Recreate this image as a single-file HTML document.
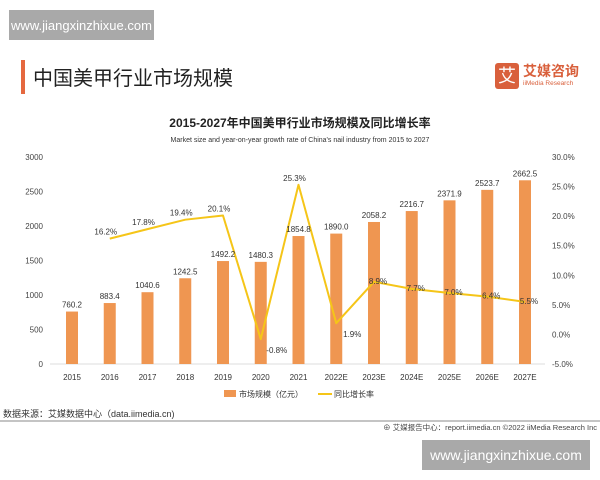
<!DOCTYPE html><html><head><meta charset="utf-8"><style>
body{margin:0;width:600px;height:480px;background:#fff;font-family:"Liberation Sans","Noto Sans CJK SC",sans-serif;overflow:hidden;position:relative}
.wm{position:absolute;background:#a9a9a9;color:#fff;font-size:13px;display:flex;align-items:center;justify-content:center}
</style></head><body>
<div class="wm" style="left:9px;top:10px;width:145px;height:30px">www.jiangxinzhixue.com</div>
<div class="wm" style="left:422px;top:440px;width:168px;height:30px;font-size:14px">www.jiangxinzhixue.com</div>
<div style="position:absolute;left:21px;top:60px;width:4px;height:34px;background:#e5683f"></div>
<div style="position:absolute;left:33px;top:62px;font-size:20px;color:#222">中国美甲行业市场规模</div>
<div style="position:absolute;left:495px;top:63px;width:24px;height:26px;background:#d9603c;border-radius:3px;color:#fff;font-size:18px;text-align:center;line-height:26px">艾</div>
<div style="position:absolute;left:523px;top:61px;font-size:14px;color:#d9603c;font-weight:bold">艾媒咨询</div>
<div style="position:absolute;left:523px;top:80px;font-size:6.5px;color:#d9603c">iiMedia Research</div>
<svg width="600" height="480" style="position:absolute;left:0;top:0" font-family="Liberation Sans,Noto Sans CJK SC,sans-serif">
<text x="300" y="127" font-size="12" font-weight="bold" text-anchor="middle" fill="#222">2015-2027年中国美甲行业市场规模及同比增长率</text>
<text x="300" y="142" font-size="7" text-anchor="middle" fill="#333">Market size and year-on-year growth rate of China's nail industry from 2015 to 2027</text>
<line x1="50" y1="364" x2="545" y2="364" stroke="#ddd"/>
<g font-size="8" fill="#444" text-anchor="end" id="ly"></g>
<g font-size="8" fill="#444" id="ry"></g>
<g id="bars"></g>
<polyline id="ln" fill="none" stroke="#f5c518" stroke-width="2" stroke-linejoin="round"/>
<g font-size="8" fill="#333" text-anchor="middle" id="lbl"></g>
<rect x="224" y="390" width="12" height="7" fill="#ef9651"/>
<text x="239" y="397" font-size="8" fill="#333">市场规模（亿元）</text>
<line x1="318" y1="394" x2="332" y2="394" stroke="#f5c518" stroke-width="2"/>
<text x="334" y="397" font-size="8" fill="#333">同比增长率</text>
<text x="3" y="417" font-size="9" fill="#333">数据来源：艾媒数据中心（data.iimedia.cn)</text>
<line x1="0" y1="421" x2="600" y2="421" stroke="#888" stroke-width="1"/>
<text x="597" y="430" font-size="7.5" fill="#444" text-anchor="end">⊕ 艾媒报告中心：report.iimedia.cn   ©2022  iiMedia Research  Inc</text>
</svg>
<script>
const ns="http://www.w3.org/2000/svg";function el(p,t,a,tx){const e=document.createElementNS(ns,t);for(const k in a)e.setAttribute(k,a[k]);if(tx!=null)e.textContent=tx;document.getElementById(p).appendChild(e);}
for(let i=0;i<=6;i++){const y=364-i*34.5;el("ly","text",{x:43,y:y+3},String(i*500));}
for(let i=0;i<=7;i++){const y=364-i*207/7;const r=-5+i*5;el("ry","text",{x:552,y:y+3},r.toFixed(1)+"%");}
const v=[760.2,883.4,1040.6,1242.5,1492.2,1480.3,1854.8,1890.0,2058.2,2216.7,2371.9,2523.7,2662.5];
const yr=["2015","2016","2017","2018","2019","2020","2021","2022E","2023E","2024E","2025E","2026E","2027E"];
const g=[null,16.2,17.8,19.4,20.1,-0.8,25.3,1.9,8.9,7.7,7.0,6.4,5.5];
const X=i=>72+i*37.75;
v.forEach((d,i)=>{const t=364-d/3000*207;el("bars","rect",{x:X(i)-6,y:t,width:12,height:364-t,fill:"#ef9651"});el("lbl","text",{x:X(i),y:t-4},d.toFixed(1));el("lbl","text",{x:X(i),y:380},yr[i]);});
const P=[];g.forEach((r,i)=>{if(r!=null)P.push([X(i),364-(r+5)/35*207]);});
document.getElementById("ln").setAttribute("points",P.map(p=>p.join(",")).join(" "));
P.forEach((p,k)=>{const r=g[k+1];el("lbl","text",{x:p[0]+(r<3?10:-4)+(k==4||k==6?6:0)+(k>=7?8:0),y:p[1]+(r<3?14:-4)+(k>=7?6:0)},r.toFixed(1)+"%");});
</script>
</body></html>
